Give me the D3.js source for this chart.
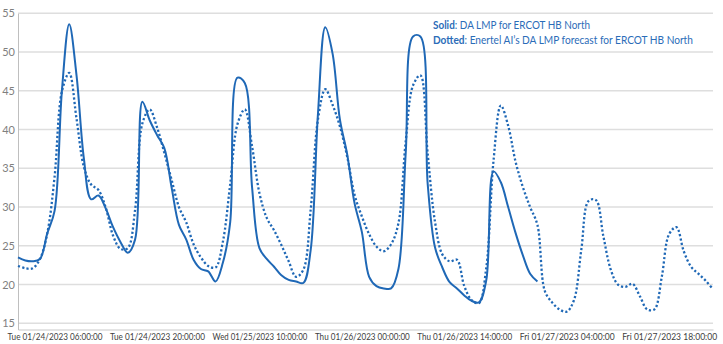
<!DOCTYPE html>
<html>
<head>
<meta charset="utf-8">
<script src="https://cdn.jsdelivr.net/npm/d3@7"></script>
<style>
  html, body { margin: 0; padding: 0; background: #ffffff; }
  svg { display: block; font-family: Lato, "Open Sans", sans-serif; }
</style>
</head>
<body>
<svg id="chart" width="723" height="344"></svg>
<script>
// Hourly day-ahead LMP for ERCOT HB North, starting Tue 01/24/2023 01:00
const startTime = new Date(2023, 0, 24, 1, 0, 0);

// Actual DA LMP ($/MWh), Jan 24-26 (72 hours)
const actualLmp = [
  23.5, 23.1, 23.0, 23.3, 26.6, 29.5, 45.0, 53.6, 47.0, 36.3,
  31.0, 31.5, 29.8, 27.4, 25.5, 24.1, 25.8, 43.6, 41.2, 39.3,
  37.6, 32.5, 27.7, 25.8, 23.2, 22.0, 21.7, 20.4, 22.8, 28.0,
  46.7, 46.0, 32.5, 24.7, 23.3, 22.3, 21.2, 20.6, 20.4, 20.2,
  24.4, 42.0, 53.2, 49.8, 41.3, 36.8, 30.5, 26.8, 21.0, 19.8,
  19.5, 19.5, 22.0, 37.0, 52.0, 52.0, 33.0, 24.8, 22.2, 20.3,
  19.5, 18.6, 17.9, 17.7, 20.5, 34.6, 33.2, 30.0, 26.7, 23.8,
  21.4, 20.4
];

// Enertel AI forecast of DA LMP ($/MWh), Jan 24-27 (96 hours)
const forecastLmp = [
  22.4, 22.1, 22.1, 23.3, 26.6, 33.9, 44.9, 47.3, 41.4, 35.2,
  32.9, 32.2, 29.9, 26.3, 24.6, 24.7, 29.6, 40.8, 42.6, 40.3,
  37.0, 33.5, 30.0, 28.0, 25.2, 23.5, 22.4, 22.2, 25.5, 32.9,
  40.7, 42.6, 37.8, 31.8, 28.6, 27.0, 25.1, 23.0, 21.0, 21.9,
  29.6, 41.3, 45.2, 43.2, 40.4, 36.5, 31.6, 28.8, 26.5, 24.9,
  24.3, 25.2, 27.9, 38.5, 45.7, 47.0, 36.9, 28.1, 23.9, 23.0,
  23.2, 19.8, 18.0, 17.6, 22.1, 36.0, 43.1, 40.5, 35.9, 32.6,
  30.0, 27.7, 19.2, 17.7, 16.8, 16.5, 18.0, 24.5, 30.8, 30.9,
  26.3, 22.0, 20.0, 19.7, 20.1, 18.5, 16.8, 16.8, 21.0, 26.5,
  27.4, 24.3, 22.3, 21.4, 20.5, 19.4
];

// Axis ticks
const yTicks = [15, 20, 25, 30, 35, 40, 45, 50, 55];
const xTickLabels = [
  "Tue 01/24/2023 06:00:00",
  "Tue 01/24/2023 20:00:00",
  "Wed 01/25/2023 10:00:00",
  "Thu 01/26/2023 00:00:00",
  "Thu 01/26/2023 14:00:00",
  "Fri 01/27/2023 04:00:00",
  "Fri 01/27/2023 18:00:00"
];

const legendLines = [
  { key: "Solid", text: ": DA LMP for ERCOT HB North", width: 157 },
  { key: "Dotted", text: ": Enertel AI\u2019s DA LMP forecast for ERCOT HB North", width: 260 }
];

const hourAt = i => d3.timeHour.offset(startTime, i);
const parseLabel = d3.timeParse("%a %m/%d/%Y %H:%M:%S");
const formatLabel = d3.timeFormat("%a %m/%d/%Y %H:%M:%S");

const lineColor = "#1f68b6";
const textBlue = "#2b6cb8";

// Squeeze a text horizontally (about its anchor) to a target width
function squeezeTo(sel, width) {
  sel.each(function () {
    const w = this.getComputedTextLength();
    if (w > width) {
      const t = d3.select(this);
      const base = t.attr("transform") || "";
      t.attr("transform", `${base} scale(${width / w},1)`);
    }
  });
}

const svg = d3.select("#chart");
const plotLeft = 18, plotRight = 713, plotTop = 13.3, plotBottom = 329.5;

const x = d3.scaleTime()
  .domain([hourAt(0), hourAt(forecastLmp.length - 1)])
  .range([plotLeft, plotRight]);

const y = d3.scaleLinear()
  .domain([14.2, 55])
  .range([plotBottom, plotTop]);

// Horizontal gridlines
svg.append("g")
  .selectAll("line")
  .data(yTicks)
  .join("line")
  .attr("x1", plotLeft)
  .attr("x2", plotRight)
  .attr("y1", d => y(d))
  .attr("y2", d => y(d))
  .attr("stroke", "#dedede")
  .attr("stroke-width", 1.4);

// Y axis
const yAxis = svg.append("g")
  .attr("transform", `translate(${plotLeft},0)`)
  .call(d3.axisLeft(y).tickValues(yTicks).tickSize(0).tickPadding(3));
yAxis.select(".domain").attr("stroke", "#bfbfbf");
yAxis.selectAll("text")
  .attr("fill", "#7f7f7f")
  .style("font-size", "11px")
  .style("font-family", "Lato, sans-serif");

// X axis (date-time labels compressed into the narrow label slot)
const xAxis = svg.append("g")
  .attr("transform", `translate(0,${plotBottom})`)
  .call(d3.axisBottom(x)
    .tickValues(xTickLabels.map(parseLabel))
    .tickFormat(formatLabel)
    .tickSize(0)
    .tickPadding(3));
xAxis.select(".domain").attr("stroke", "#c8c8c8");
xAxis.selectAll("text")
  .attr("fill", "#404040")
  .style("font-size", "10.3px")
  .style("font-family", "Lato, sans-serif")
  .call(squeezeTo, 95);

// Series lines
const line = d3.line()
  .x((d, i) => x(hourAt(i)))
  .y(d => y(d))
  .curve(d3.curveCatmullRom.alpha(0.5));

svg.append("path")
  .datum(forecastLmp)
  .attr("fill", "none")
  .attr("stroke", lineColor)
  .attr("stroke-width", 2.3)
  .attr("stroke-dasharray", "2.2 2.2")
  .attr("d", line);

svg.append("path")
  .datum(actualLmp)
  .attr("fill", "none")
  .attr("stroke", lineColor)
  .attr("stroke-width", 2)
  .attr("stroke-linejoin", "round")
  .attr("d", line);

// Legend text
const legend = svg.append("g")
  .attr("transform", "translate(433,28.5)")
  .style("font-family", "Lato, sans-serif")
  .style("font-size", "11.2px")
  .attr("fill", textBlue);

legendLines.forEach((l, i) => {
  const t = legend.append("text").attr("transform", `translate(0,${i * 15})`);
  t.append("tspan").attr("font-weight", "bold").text(l.key);
  t.append("tspan").text(l.text);
  t.call(squeezeTo, l.width);
});
</script>
</body>
</html>
